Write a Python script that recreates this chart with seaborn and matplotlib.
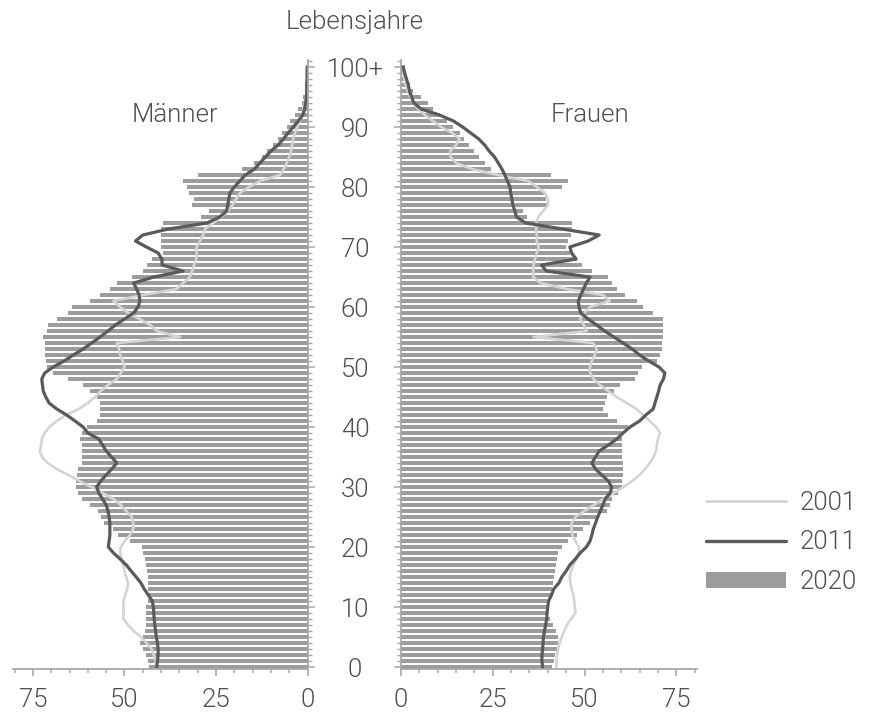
import matplotlib
matplotlib.use("Agg")
import matplotlib.pyplot as plt
from matplotlib.lines import Line2D
from matplotlib.patches import Patch
from matplotlib.ticker import MultipleLocator
import pandas as pd
import seaborn as sns

# ---- data (thousands of persons per single year of age, 0 .. 100+) ----
ages = list(range(101))
age_ticks = list(range(0, 101, 10))
age_labels = ["0", "10", "20", "30", "40", "50", "60", "70", "80", "90", "100+"]
count_ticks = [0, 25, 50, 75]
count_labels = ["0", "25", "50", "75"]
series_labels = ["2001", "2011", "2020"]

men_2020 = [
    43.3, 43.5, 44.0, 45.0, 45.8, 44.9, 44.4, 44.0, 44.0, 44.0,
    44.0, 43.5, 43.5, 43.5, 43.5, 43.5, 43.8, 44.2, 44.5, 44.9,
    45.3, 48.5, 51.7, 53.1, 55.5, 56.5, 57.3, 59.5, 61.5, 62.8,
    63.3, 63.3, 63.0, 62.6, 61.7, 61.7, 61.7, 61.7, 62.2, 61.7,
    60.3, 57.6, 56.7, 56.7, 56.7, 57.6, 59.4, 61.3, 65.3, 69.4,
    71.3, 71.5, 71.7, 71.7, 71.7, 72.2, 71.3, 70.8, 68.5, 65.3,
    64.4, 59.4, 56.7, 54.0, 52.1, 48.0, 45.0, 43.9, 42.6, 39.5,
    40.0, 40.0, 40.0, 40.0, 39.4, 29.0, 27.0, 31.5, 31.0, 32.5,
    33.0, 34.0, 30.0, 18.0, 14.5, 12.5, 11.2, 9.5, 8.0, 7.0,
    5.7, 4.8, 3.4, 2.5, 1.4, 1.1, 0.8, 0.6, 0.4, 0.3,
    0.4,
]
women_2020 = [
    41.1, 41.6, 42.0, 42.5, 42.9, 42.7, 42.3, 41.5, 40.6, 40.1,
    39.7, 39.7, 41.1, 41.1, 41.4, 41.8, 42.0, 42.2, 42.5, 42.9,
    43.8, 45.6, 47.9, 49.7, 51.5, 53.3, 56.1, 57.0, 57.4, 59.2,
    60.1, 60.3, 60.6, 60.6, 60.6, 60.1, 60.1, 60.1, 60.1, 60.1,
    61.9, 58.8, 56.5, 55.1, 55.6, 56.1, 57.9, 59.7, 63.8, 64.7,
    65.6, 69.7, 70.6, 71.0, 71.0, 71.3, 71.5, 71.5, 71.5, 68.7,
    66.0, 64.2, 61.0, 58.8, 57.4, 56.5, 52.0, 49.2, 47.9, 46.0,
    45.0, 45.5, 46.2, 46.5, 46.5, 34.2, 33.3, 40.0, 39.6, 39.2,
    43.8, 45.6, 41.0, 24.5, 23.0, 21.3, 20.0, 18.5, 17.2, 16.0,
    14.3, 12.5, 10.5, 8.7, 7.4, 5.5, 3.4, 2.5, 1.5, 1.0,
    1.2,
]
men_2011 = [
    41.2, 41.0, 40.8, 40.8, 41.0, 41.3, 41.5, 41.7, 41.9, 42.0,
    42.1, 42.4, 43.5, 44.6, 45.5, 46.8, 48.2, 49.5, 51.2, 53.0,
    54.4, 54.2, 54.0, 54.0, 54.0, 54.2, 54.5, 55.0, 56.0, 57.0,
    57.6, 56.5, 55.0, 53.5, 52.1, 53.5, 55.0, 56.0, 57.0, 60.0,
    61.3, 63.5, 65.8, 68.5, 70.6, 71.5, 72.2, 72.4, 72.6, 71.8,
    69.5, 66.5, 64.0, 61.3, 59.0, 56.7, 54.5, 52.5, 50.0, 47.5,
    46.3, 45.8, 46.0, 46.7, 47.5, 42.0, 34.0, 39.7, 39.8, 40.8,
    44.0, 47.0, 45.0, 38.0, 27.5, 24.0, 22.1, 21.8, 21.5, 21.2,
    20.0, 18.5, 17.0, 14.5, 13.0, 11.5, 10.0, 8.0, 6.6, 5.3,
    3.9, 2.5, 1.3, 0.8, 0.5, 0.3, 0.2, 0.2, 0.1, 0.1,
    0.1,
]
women_2011 = [
    38.6, 38.4, 38.4, 38.6, 38.7, 38.8, 39.1, 39.4, 39.7, 39.8,
    40.0, 40.2, 41.0, 41.6, 43.0, 43.8, 45.0, 46.0, 47.5, 48.8,
    50.5, 51.5, 52.0, 52.4, 53.0, 53.6, 54.3, 55.0, 55.6, 57.0,
    57.4, 56.5, 54.7, 53.0, 52.0, 53.0, 54.0, 56.5, 58.8, 60.5,
    62.4, 65.0, 66.7, 68.7, 69.2, 69.7, 70.2, 70.6, 71.5, 71.9,
    70.3, 67.5, 65.0, 63.0, 60.5, 58.0, 55.5, 53.3, 51.0, 49.0,
    48.5, 48.3, 49.0, 49.7, 50.5, 51.5, 39.6, 38.3, 47.7, 46.5,
    46.0, 51.0, 54.0, 44.0, 34.0, 31.5, 31.0, 30.5, 30.2, 29.9,
    29.7, 29.0, 28.3, 27.5, 26.5, 25.5, 24.0, 22.8, 21.2, 19.0,
    16.8, 14.3, 10.5, 5.5, 3.5, 2.9, 2.3, 2.0, 1.5, 1.0,
    0.6,
]
men_2001 = [
    41.2, 41.5, 42.0, 42.6, 44.0, 45.5, 47.5, 49.0, 50.3, 50.3,
    50.3, 50.3, 49.8, 49.3, 49.0, 49.5, 50.0, 50.3, 50.8, 51.2,
    51.0, 50.0, 48.5, 47.6, 47.6, 48.0, 49.5, 51.0, 53.0, 56.0,
    59.0, 62.3, 65.3, 68.5, 71.0, 72.5, 73.1, 72.8, 72.6, 71.8,
    70.5, 68.5, 66.0, 62.5, 60.0, 58.0, 56.5, 54.5, 52.1, 51.0,
    50.0, 50.5, 51.2, 51.5, 52.1, 34.8, 41.2, 43.0, 45.8, 49.0,
    51.2, 53.1, 45.0, 35.7, 34.0, 32.1, 31.5, 31.0, 30.4, 30.3,
    30.3, 29.4, 28.5, 28.0, 25.8, 23.5, 21.7, 20.5, 19.5, 18.4,
    16.0, 13.0, 7.5, 6.5, 5.7, 5.0, 4.5, 4.2, 3.9, 3.4,
    2.8, 2.1, 1.5, 1.1, 0.7, 0.4, 0.3, 0.2, 0.1, 0.1,
    0.1,
]
women_2001 = [
    42.3, 42.4, 42.5, 42.8, 43.2, 43.8, 44.5, 45.2, 46.3, 47.5,
    47.4, 47.2, 47.0, 46.5, 46.1, 46.0, 46.3, 47.0, 47.8, 48.5,
    48.5, 47.5, 46.7, 46.5, 46.5, 47.5, 50.0, 52.5, 55.1, 58.0,
    60.6, 63.0, 65.0, 66.5, 67.8, 68.8, 69.5, 69.7, 70.0, 70.6,
    69.5, 67.8, 66.0, 64.2, 61.5, 58.8, 56.5, 54.2, 52.5, 51.5,
    51.5, 52.0, 52.8, 53.3, 52.4, 36.1, 50.6, 49.8, 48.8, 50.0,
    51.5, 56.9, 55.0, 45.2, 38.0, 36.0, 36.0, 36.1, 36.5, 37.0,
    37.5, 37.0, 37.0, 36.8, 36.8, 37.4, 38.7, 40.1, 40.0, 39.2,
    37.0, 34.7, 26.5, 19.3, 15.0, 13.5, 13.4, 15.0, 16.0, 14.0,
    11.0, 8.7, 6.5, 4.7, 3.5, 2.5, 1.8, 1.3, 0.9, 0.6,
    0.4,
]

df = pd.DataFrame({
    "age": ages,
    "men_2020": men_2020, "women_2020": women_2020,
    "men_2011": men_2011, "women_2011": women_2011,
    "men_2001": men_2001, "women_2001": women_2001,
})

# ---- style ----
sns.set_style("white")
plt.rcParams["font.family"] = ["Roboto", "DejaVu Sans"]
plt.rcParams["font.weight"] = 300

TEXT = "#4f4f4f"
BAR = "#9c9c9c"
C2011 = "#5a5a5a"
C2001 = "#d4d4d4"
AXIS = "#a8a8a8"
FS = 18.5

W, H = 874, 715
fig = plt.figure(figsize=(W / 100, H / 100), dpi=100)


def px_box(x0, x1, y_top, y_bot):
    return [x0 / W, 1 - y_bot / H, (x1 - x0) / W, (y_bot - y_top) / H]


ax_m = fig.add_axes(px_box(13, 307.5, 60, 669))
ax_f = fig.add_axes(px_box(401, 697, 60, 669))

for ax, sex in [(ax_m, "men"), (ax_f, "women")]:
    sns.barplot(data=df, x=f"{sex}_2020", y="age", orient="h", native_scale=True,
                color=BAR, saturation=1, width=0.75, linewidth=0, errorbar=None, ax=ax)
    sns.lineplot(data=df, x=f"{sex}_2001", y="age", orient="y", estimator=None,
                 color=C2001, lw=1.9, ax=ax)
    sns.lineplot(data=df, x=f"{sex}_2011", y="age", orient="y", estimator=None,
                 color=C2011, lw=2.3, ax=ax)
    ax.set_ylim(-0.33, 101.17)
    ax.set_xlabel("")
    ax.set_ylabel("")
    ax.set_facecolor("none")
    for s in ax.spines.values():
        s.set_color(AXIS)
        s.set_linewidth(1.3)
    ax.spines["top"].set_visible(False)
    ax.set_xticks(count_ticks, count_labels)
    ax.xaxis.set_minor_locator(MultipleLocator(5))
    ax.yaxis.set_minor_locator(MultipleLocator(1))
    ax.tick_params(axis="x", which="major", direction="out", length=5, width=1.2,
                   color=AXIS, labelsize=FS, labelcolor=TEXT, pad=9, bottom=True)
    ax.tick_params(axis="x", which="minor", direction="out", length=3, width=1.1,
                   color=AXIS, bottom=True)

ax_m.set_xlim(80.46, 0)
ax_f.set_xlim(0, 80.65)

ax_m.spines["left"].set_visible(False)
ax_f.spines["right"].set_visible(False)

# age scale sits between the two halves, drawn from the men's axis
ax_m.yaxis.tick_right()
ax_m.set_yticks(age_ticks, age_labels)
ax_m.tick_params(axis="y", which="major", direction="out", length=5, width=1.1,
                 color=AXIS, labelsize=FS, labelcolor=TEXT, pad=29.2,
                 right=True, left=False, labelright=True, labelleft=False)
ax_m.tick_params(axis="y", which="minor", direction="out", length=2.6, width=1.0,
                 color=AXIS, right=True, left=False)
plt.setp(ax_m.get_yticklabels(), ha="center")

ax_f.set_yticks(age_ticks)
ax_f.tick_params(axis="y", which="major", direction="out", length=5, width=1.1,
                 color=AXIS, labelleft=False, left=True)
ax_f.tick_params(axis="y", which="minor", direction="out", length=2.6, width=1.0,
                 color=AXIS, left=True)

fig.text(355 / W, 1 - 22 / H, "Lebensjahre", ha="center", va="center",
         fontsize=FS, color=TEXT)
fig.text(175 / W, 1 - 115 / H, "Männer", ha="center", va="center",
         fontsize=FS, color=TEXT)
fig.text(590 / W, 1 - 115 / H, "Frauen", ha="center", va="center",
         fontsize=FS, color=TEXT)

handles = [
    Line2D([], [], color=C2001, lw=2.0),
    Line2D([], [], color=C2011, lw=2.4),
    Patch(facecolor=BAR, edgecolor="none"),
]
fig.legend(handles, series_labels, loc="upper left",
           bbox_to_anchor=(706 / W, 1 - 491 / H), frameon=False, fontsize=FS,
           handlelength=3.1, handleheight=0.6, handletextpad=0.55,
           labelspacing=0.6, borderpad=0, borderaxespad=0, labelcolor=TEXT)

fig.savefig("out.png", dpi=100)
